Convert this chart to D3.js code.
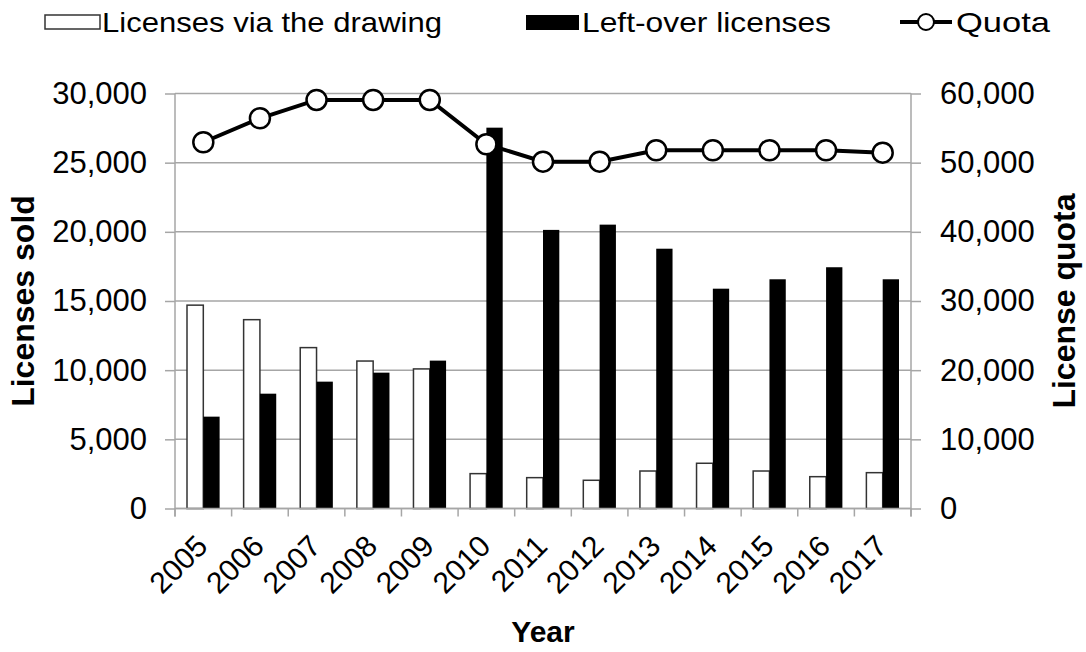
<!DOCTYPE html>
<html><head><meta charset="utf-8">
<script src="https://cdn.jsdelivr.net/npm/d3@7"></script>
<style>body{margin:0;background:#fff}svg{display:block}</style>
</head><body>
<svg id="c" width="1086" height="652"></svg>
<script>
const years = ["2005","2006","2007","2008","2009","2010","2011","2012","2013","2014","2015","2016","2017"];
const drawing = [14700,13650,11630,10660,10090,2520,2230,2040,2710,3270,2710,2300,2590];
const leftover = [6640,8300,9170,9820,10690,27530,20140,20520,18780,15890,16570,17440,16570];
const quota = [52950,56420,59070,59070,59070,52660,50150,50150,51800,51800,51800,51800,51450];
const leftTicks = [0,5000,10000,15000,20000,25000,30000];
const rightTicks = [0,10000,20000,30000,40000,50000,60000];

const svg = d3.select("#c");
const L = 175, R = 911, T = 93.5, B = 508.5;
const x = d3.scaleBand().domain(years).range([L, R]).padding(0);
const yL = d3.scaleLinear().domain([0,30000]).range([B, T]);
const yR = d3.scaleLinear().domain([0,60000]).range([B, T]);
const grid = "#a6a6a6";
const font = "'Liberation Sans', Arial, sans-serif";
const barW = x.bandwidth() * 0.288;

// gridlines
svg.append("g").selectAll("line").data(leftTicks).join("line")
  .attr("x1", L).attr("x2", R).attr("y1", d => yL(d)).attr("y2", d => yL(d))
  .attr("stroke", grid).attr("stroke-width", 1.5);

// left axis
const gl = svg.append("g").attr("transform", `translate(${L},0)`)
  .call(d3.axisLeft(yL).tickValues(leftTicks).tickFormat(d3.format(",")).tickSize(10).tickPadding(18));
gl.select(".domain").remove();
gl.selectAll(".tick line").attr("stroke", grid).attr("stroke-width", 1.5);
gl.selectAll(".tick text").attr("font-family", font).attr("font-size", 31).attr("fill", "#000");
svg.append("line").attr("x1", L).attr("x2", L).attr("y1", T).attr("y2", B + 8).attr("stroke", grid).attr("stroke-width", 1.5);

// right axis
const gr = svg.append("g").attr("transform", `translate(${R},0)`)
  .call(d3.axisRight(yR).tickValues(rightTicks).tickFormat(d3.format(",")).tickSize(10).tickPadding(19));
gr.select(".domain").remove();
gr.selectAll(".tick line").attr("stroke", grid).attr("stroke-width", 1.5);
gr.selectAll(".tick text").attr("font-family", font).attr("font-size", 31).attr("fill", "#000");
svg.append("line").attr("x1", R).attr("x2", R).attr("y1", T).attr("y2", B + 8).attr("stroke", grid).attr("stroke-width", 1.5);

// x tick marks
const bounds = years.map(y => x(y)).concat([R]);
svg.append("g").selectAll("line").data(bounds).join("line")
  .attr("x1", d => d).attr("x2", d => d).attr("y1", B).attr("y2", B + 8)
  .attr("stroke", grid).attr("stroke-width", 1.5);

// bars
svg.append("g").selectAll("rect").data(years).join("rect")
  .attr("x", (d) => x(d) + x.bandwidth()/2 - barW)
  .attr("y", (d,i) => yL(drawing[i]))
  .attr("width", barW).attr("height", (d,i) => B - yL(drawing[i]))
  .attr("fill", "#fff").attr("stroke", "#333").attr("stroke-width", 1.5);
svg.append("g").selectAll("rect").data(years).join("rect")
  .attr("x", (d) => x(d) + x.bandwidth()/2)
  .attr("y", (d,i) => yL(leftover[i]))
  .attr("width", barW).attr("height", (d,i) => B - yL(leftover[i]))
  .attr("fill", "#000");
// baseline
svg.append("line").attr("x1", L).attr("x2", R).attr("y1", B).attr("y2", B).attr("stroke", grid).attr("stroke-width", 1.5);

// quota line
const line = d3.line().x((d,i) => x(years[i]) + x.bandwidth()/2).y(d => yR(d));
svg.append("path").datum(quota).attr("d", line).attr("fill", "none").attr("stroke", "#000").attr("stroke-width", 4);
svg.append("g").selectAll("circle").data(quota).join("circle")
  .attr("cx", (d,i) => x(years[i]) + x.bandwidth()/2).attr("cy", d => yR(d)).attr("r", 10)
  .attr("fill", "#fff").attr("stroke", "#000").attr("stroke-width", 2.5);

// x labels
svg.append("g").selectAll("text").data(years).join("text")
  .attr("transform", d => `translate(${x(d) + x.bandwidth()/2 + 6},${548}) rotate(-45)`)
  .attr("text-anchor", "end")
  .attr("font-family", font).attr("font-size", 30).text(d => d);

// axis titles
svg.append("text").attr("x", 543).attr("y", 642).attr("text-anchor", "middle")
  .attr("font-family", font).attr("font-weight", "bold").attr("font-size", 30).text("Year");
svg.append("text").attr("transform", `translate(34,${(T+B)/2}) rotate(-90)`).attr("text-anchor", "middle")
  .attr("font-family", font).attr("font-weight", "bold").attr("font-size", 32).text("Licenses sold");
svg.append("text").attr("transform", `translate(1075,${(T+B)/2}) rotate(-90)`).attr("text-anchor", "middle")
  .attr("font-family", font).attr("font-weight", "bold").attr("font-size", 32).text("License quota");

// legend
const lg = svg.append("g");
lg.append("rect").attr("x", 45).attr("y", 15).attr("width", 55).attr("height", 14).attr("fill", "#fff").attr("stroke", "#333").attr("stroke-width", 1.5);
lg.append("text").attr("x", 102).attr("y", 32).attr("font-family", font).attr("font-size", 28)
  .attr("textLength", 340).attr("lengthAdjust", "spacingAndGlyphs").text("Licenses via the drawing");
lg.append("rect").attr("x", 526).attr("y", 15).attr("width", 53).attr("height", 15).attr("fill", "#000");
lg.append("text").attr("x", 582).attr("y", 32).attr("font-family", font).attr("font-size", 28)
  .attr("textLength", 249).attr("lengthAdjust", "spacingAndGlyphs").text("Left-over licenses");
lg.append("line").attr("x1", 900).attr("x2", 952).attr("y1", 22).attr("y2", 22).attr("stroke", "#000").attr("stroke-width", 4);
lg.append("circle").attr("cx", 926).attr("cy", 22).attr("r", 8).attr("fill", "#fff").attr("stroke", "#000").attr("stroke-width", 2);
lg.append("text").attr("x", 956).attr("y", 32).attr("font-family", font).attr("font-size", 28)
  .attr("textLength", 94).attr("lengthAdjust", "spacingAndGlyphs").text("Quota");
</script>
</body></html>
